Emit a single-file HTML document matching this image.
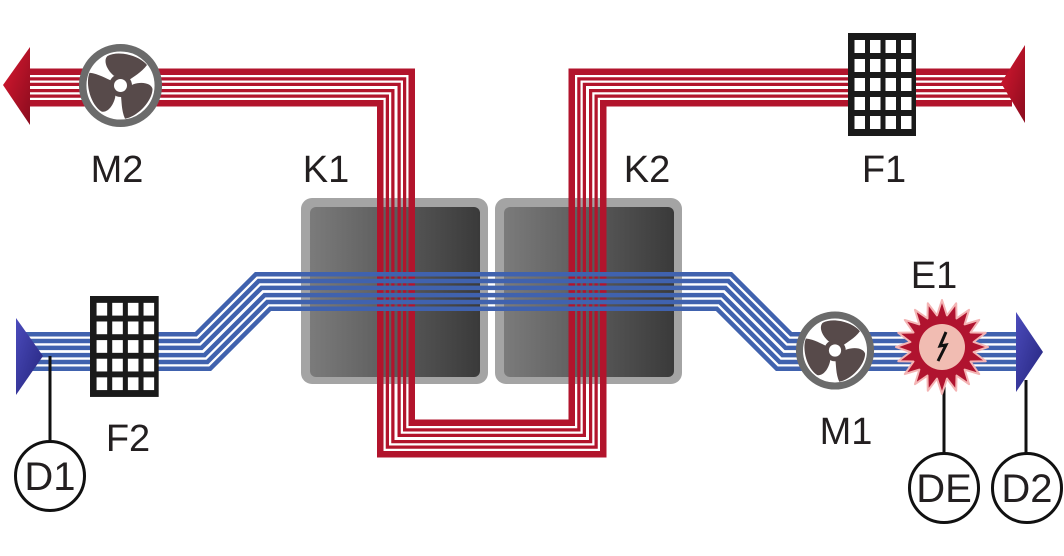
<!DOCTYPE html>
<html><head><meta charset="utf-8"><style>
html,body{margin:0;padding:0;background:#fff;}
svg{display:block;}
text{font-family:"Liberation Sans",Arial,sans-serif;fill:#231f20;}
</style></head><body>
<svg width="1064" height="556" viewBox="0 0 1064 556" xmlns="http://www.w3.org/2000/svg">
<defs>
  <linearGradient id="boxg" x1="0" y1="0" x2="1" y2="0">
    <stop offset="0" stop-color="#7b7b7b"/><stop offset="1" stop-color="#3a3a3a"/>
  </linearGradient>
  <linearGradient id="rag" x1="0" y1="0" x2="1" y2="1">
    <stop offset="0" stop-color="#da1830"/><stop offset="1" stop-color="#8a0c1e"/>
  </linearGradient>
  <linearGradient id="bag" x1="0" y1="0" x2="1" y2="1">
    <stop offset="0" stop-color="#4b4bbb"/><stop offset="1" stop-color="#24247c"/>
  </linearGradient>
  <mask id="mr" maskUnits="userSpaceOnUse" x="0" y="0" width="1064" height="556">
    <g fill="none" stroke-linejoin="miter" stroke-miterlimit="10">
      <path d="M24,87.5 H396 V438.5 H587.5 V87.5 H1012" stroke="#fff" stroke-width="38"/>
      <path d="M24,87.5 H396 V438.5 H587.5 V87.5 H1012" stroke="#000" stroke-width="25"/>
      <path d="M24,87.5 H396 V438.5 H587.5 V87.5 H1012" stroke="#fff" stroke-width="20.5"/>
      <path d="M24,87.5 H396 V438.5 H587.5 V87.5 H1012" stroke="#000" stroke-width="14"/>
      <path d="M24,87.5 H396 V438.5 H587.5 V87.5 H1012" stroke="#fff" stroke-width="9.5"/>
      <path d="M24,87.5 H396 V438.5 H587.5 V87.5 H1012" stroke="#000" stroke-width="3"/>
    </g>
  </mask>
  <mask id="mb" maskUnits="userSpaceOnUse" x="0" y="0" width="1064" height="556">
    <g fill="none" stroke-linejoin="miter" stroke-miterlimit="10">
      <path d="M26,351.5 H203 L263,291.5 H724 L784,351.5 H1022" stroke="#fff" stroke-width="39"/>
      <path d="M26,351.5 H203 L263,291.5 H724 L784,351.5 H1022" stroke="#000" stroke-width="30"/>
      <path d="M26,351.5 H203 L263,291.5 H724 L784,351.5 H1022" stroke="#fff" stroke-width="25.4"/>
      <path d="M26,351.5 H203 L263,291.5 H724 L784,351.5 H1022" stroke="#000" stroke-width="16.4"/>
      <path d="M26,351.5 H203 L263,291.5 H724 L784,351.5 H1022" stroke="#fff" stroke-width="11.8"/>
      <path d="M26,351.5 H203 L263,291.5 H724 L784,351.5 H1022" stroke="#000" stroke-width="2.8"/>
    </g>
  </mask>
  <path id="blade" d="M-7,-10 C-15,-17 -17,-26 -13,-29.5 C-2,-35.5 19,-30 26.5,-20.5 C21,-13 13,-9 8,-5 Z"/>
</defs>

<!-- heat exchanger boxes -->
<rect x="301" y="198" width="187" height="186" rx="11" fill="#a4a4a4"/>
<rect x="310" y="207" width="170" height="170" rx="6" fill="url(#boxg)"/>
<rect x="495" y="198" width="187" height="186" rx="11" fill="#a4a4a4"/>
<rect x="504" y="207" width="170" height="170" rx="6" fill="url(#boxg)"/>

<!-- red band -->
<rect x="0" y="0" width="1064" height="556" fill="#b2142c" mask="url(#mr)"/>
<!-- blue band -->
<rect x="0" y="0" width="1064" height="556" fill="#4062ae" mask="url(#mb)"/>

<!-- red arrows -->
<polygon points="30,47 30,125 3,85" fill="url(#rag)"/>
<polygon points="1025,45 1025,123 1001,83" fill="url(#rag)"/>
<!-- blue arrows -->
<polygon points="16,318 16,395 43,356" fill="url(#bag)"/>
<polygon points="1016,312 1016,392 1043,352" fill="url(#bag)"/>

<!-- fan M2 -->
<g transform="translate(120.5,85.5)">
  <circle r="37.8" fill="#fff" stroke="#6b6b6b" stroke-width="7.5"/>
  <g fill="#574a4a">
    <use href="#blade"/>
    <use href="#blade" transform="rotate(120)"/>
    <use href="#blade" transform="rotate(240)"/>
    <circle r="11.5"/>
  </g>
  <circle r="6.5" fill="#fff"/>
</g>
<!-- fan M1 -->
<g transform="translate(835,350.5) scale(0.94)">
  <circle r="37.8" fill="#fff" stroke="#6b6b6b" stroke-width="7.5"/>
  <g fill="#574a4a">
    <use href="#blade"/>
    <use href="#blade" transform="rotate(120)"/>
    <use href="#blade" transform="rotate(240)"/>
    <circle r="11.5"/>
  </g>
  <circle r="6.5" fill="#fff"/>
</g>

<!-- filter F1 -->
<g transform="translate(848,33)">
  <rect width="68" height="103" fill="#1a1a1a"/>
  <g fill="#fff">
    <rect x="6.5" y="7" width="10.5" height="13"/><rect x="22" y="7" width="10.5" height="13"/><rect x="37.5" y="7" width="10.5" height="13"/><rect x="53" y="7" width="10.5" height="13"/>
    <rect x="6.5" y="26" width="10.5" height="13"/><rect x="22" y="26" width="10.5" height="13"/><rect x="37.5" y="26" width="10.5" height="13"/><rect x="53" y="26" width="10.5" height="13"/>
    <rect x="6.5" y="45" width="10.5" height="13"/><rect x="22" y="45" width="10.5" height="13"/><rect x="37.5" y="45" width="10.5" height="13"/><rect x="53" y="45" width="10.5" height="13"/>
    <rect x="6.5" y="64" width="10.5" height="13"/><rect x="22" y="64" width="10.5" height="13"/><rect x="37.5" y="64" width="10.5" height="13"/><rect x="53" y="64" width="10.5" height="13"/>
    <rect x="6.5" y="83" width="10.5" height="13"/><rect x="22" y="83" width="10.5" height="13"/><rect x="37.5" y="83" width="10.5" height="13"/><rect x="53" y="83" width="10.5" height="13"/>
  </g>
</g>
<!-- filter F2 -->
<g transform="translate(90,296) scale(1.01,0.98)">
  <rect width="68" height="103" fill="#1a1a1a"/>
  <g fill="#fff">
    <rect x="6.5" y="7" width="10.5" height="13"/><rect x="22" y="7" width="10.5" height="13"/><rect x="37.5" y="7" width="10.5" height="13"/><rect x="53" y="7" width="10.5" height="13"/>
    <rect x="6.5" y="26" width="10.5" height="13"/><rect x="22" y="26" width="10.5" height="13"/><rect x="37.5" y="26" width="10.5" height="13"/><rect x="53" y="26" width="10.5" height="13"/>
    <rect x="6.5" y="45" width="10.5" height="13"/><rect x="22" y="45" width="10.5" height="13"/><rect x="37.5" y="45" width="10.5" height="13"/><rect x="53" y="45" width="10.5" height="13"/>
    <rect x="6.5" y="64" width="10.5" height="13"/><rect x="22" y="64" width="10.5" height="13"/><rect x="37.5" y="64" width="10.5" height="13"/><rect x="53" y="64" width="10.5" height="13"/>
    <rect x="6.5" y="83" width="10.5" height="13"/><rect x="22" y="83" width="10.5" height="13"/><rect x="37.5" y="83" width="10.5" height="13"/><rect x="53" y="83" width="10.5" height="13"/>
  </g>
</g>

<!-- sensor lines -->
<g stroke="#111" stroke-width="3">
  <line x1="50" y1="356" x2="50" y2="441"/>
  <line x1="944" y1="385" x2="944" y2="453"/>
  <line x1="1026" y1="380" x2="1026" y2="453"/>
</g>

<!-- heater E1 -->
<g transform="translate(942,347)">
  <polygon fill="#b0132f" stroke="#f4b4b4" stroke-width="2" stroke-linejoin="round" points="0,-47 5.01,-31.61 14.21,-43.75 14.53,-28.51 27.04,-37.21 22.63,-22.63 37.21,-27.04 28.51,-14.53 43.75,-14.21 31.61,-5.01 46,0 31.61,5.01 43.75,14.21 28.51,14.53 37.21,27.04 22.63,22.63 27.04,37.21 14.53,28.51 14.21,43.75 5.01,31.61 0,47 -5.01,31.61 -14.21,43.75 -14.53,28.51 -27.04,37.21 -22.63,22.63 -37.21,27.04 -28.51,14.53 -43.75,14.21 -31.61,5.01 -46,0 -31.61,-5.01 -43.75,-14.21 -28.51,-14.53 -37.21,-27.04 -22.63,-22.63 -27.04,-37.21 -14.53,-28.51 -14.21,-43.75 -5.01,-31.61"/>
  <circle r="23" fill="#f1bcb2"/>
  <polyline points="4,-15 -2,-1 4,-2 -4,14" fill="none" stroke="#111" stroke-width="3"/>
</g>

<!-- sensor circles -->
<g fill="#fff" stroke="#111" stroke-width="3">
  <circle cx="50" cy="476" r="34.5"/>
  <circle cx="944" cy="488" r="34.5"/>
  <circle cx="1027" cy="488" r="34.5"/>
</g>
<g font-size="40" text-anchor="middle">
  <text x="50" y="490">D1</text>
  <text x="944" y="502">DE</text>
  <text x="1027" y="502">D2</text>
</g>

<!-- labels -->
<g font-size="38" text-anchor="middle">
  <text x="117" y="182">M2</text>
  <text x="326" y="182">K1</text>
  <text x="647" y="182">K2</text>
  <text x="884" y="182">F1</text>
  <text x="128" y="451">F2</text>
  <text x="846" y="444">M1</text>
  <text x="934" y="288">E1</text>
</g>
</svg>
</body></html>
